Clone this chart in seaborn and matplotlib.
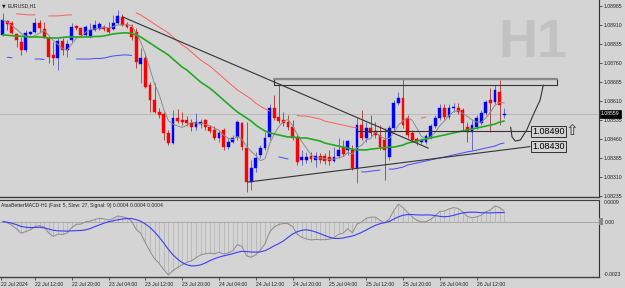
import numpy as np
import pandas as pd
import matplotlib
matplotlib.use('Agg')
import matplotlib.pyplot as plt
import seaborn as sns
from matplotlib.patches import Rectangle

sns.set_theme(style='white')
plt.rcParams['font.family'] = ['Liberation Sans', 'DejaVu Sans']

BG = '#d4d4d4'

# EURUSD H1 candles, 22 Jul 2024 05:00 onwards
opens = [1.08871, 1.08926, 1.08918, 1.08875, 1.08843, 1.08812, 1.08875, 1.08883, 1.08918, 1.08894,
         1.08859, 1.08792, 1.08780, 1.08847, 1.08812, 1.08851, 1.08906, 1.08898, 1.08871, 1.08867,
         1.08891, 1.08894, 1.08902, 1.08898, 1.08894, 1.08918, 1.08942, 1.08914, 1.08902, 1.08883,
         1.08756, 1.08780, 1.08673, 1.08614, 1.08567, 1.08559, 1.08484, 1.08444, 1.08543, 1.08535,
         1.08535, 1.08523, 1.08507, 1.08519, 1.08535, 1.08507, 1.08496, 1.08464, 1.08496, 1.08428,
         1.08448, 1.08468, 1.08523, 1.08424, 1.08290, 1.08345, 1.08397, 1.08424, 1.08468, 1.08582,
         1.08547, 1.08535, 1.08527, 1.08507, 1.08464, 1.08377, 1.08377, 1.08393, 1.08377, 1.08393,
         1.08393, 1.08389, 1.08373, 1.08393, 1.08428, 1.08417, 1.08417, 1.08345, 1.08515, 1.08464,
         1.08503, 1.08492, 1.08476, 1.08456, 1.08389, 1.08503, 1.08602, 1.08622, 1.08543, 1.08484,
         1.08460, 1.08448, 1.08448, 1.08468, 1.08511, 1.08543, 1.08582, 1.08547, 1.08582, 1.08582,
         1.08575, 1.08507, 1.08488, 1.08507, 1.08523, 1.08563, 1.08614, 1.08606, 1.08646, 1.08555]
closes = [1.08930, 1.08914, 1.08879, 1.08851, 1.08812, 1.08879, 1.08883, 1.08918, 1.08898, 1.08863,
          1.08784, 1.08780, 1.08847, 1.08812, 1.08835, 1.08902, 1.08898, 1.08871, 1.08902, 1.08891,
          1.08910, 1.08914, 1.08894, 1.08883, 1.08918, 1.08946, 1.08910, 1.08902, 1.08863, 1.08764,
          1.08780, 1.08665, 1.08614, 1.08567, 1.08555, 1.08484, 1.08444, 1.08543, 1.08531, 1.08527,
          1.08523, 1.08507, 1.08527, 1.08527, 1.08507, 1.08492, 1.08464, 1.08484, 1.08428, 1.08448,
          1.08464, 1.08527, 1.08428, 1.08290, 1.08345, 1.08385, 1.08424, 1.08464, 1.08582, 1.08543,
          1.08531, 1.08523, 1.08507, 1.08464, 1.08369, 1.08389, 1.08389, 1.08381, 1.08393, 1.08377,
          1.08373, 1.08373, 1.08389, 1.08417, 1.08401, 1.08452, 1.08345, 1.08515, 1.08464, 1.08503,
          1.08484, 1.08476, 1.08428, 1.08417, 1.08503, 1.08602, 1.08622, 1.08515, 1.08476, 1.08456,
          1.08448, 1.08456, 1.08472, 1.08511, 1.08543, 1.08582, 1.08547, 1.08582, 1.08586, 1.08567,
          1.08523, 1.08488, 1.08515, 1.08543, 1.08563, 1.08606, 1.08602, 1.08654, 1.08594, 1.08559]
highs = [1.08958, 1.08930, 1.08926, 1.08879, 1.08863, 1.08891, 1.08887, 1.08938, 1.08930, 1.08922,
         1.08863, 1.08843, 1.08859, 1.08859, 1.08851, 1.08918, 1.08910, 1.08902, 1.08910, 1.08918,
         1.08930, 1.08922, 1.08910, 1.08922, 1.08950, 1.08970, 1.08954, 1.08922, 1.08914, 1.08898,
         1.08819, 1.08800, 1.08685, 1.08681, 1.08582, 1.08567, 1.08496, 1.08575, 1.08578, 1.08567,
         1.08551, 1.08539, 1.08563, 1.08539, 1.08539, 1.08515, 1.08511, 1.08496, 1.08503, 1.08464,
         1.08476, 1.08535, 1.08527, 1.08527, 1.08377, 1.08409, 1.08436, 1.08488, 1.08598, 1.08634,
         1.08673, 1.08567, 1.08555, 1.08535, 1.08476, 1.08417, 1.08409, 1.08409, 1.08409, 1.08405,
         1.08405, 1.08417, 1.08428, 1.08464, 1.08456, 1.08456, 1.08436, 1.08543, 1.08575, 1.08527,
         1.08555, 1.08527, 1.08515, 1.08503, 1.08515, 1.08614, 1.08646, 1.08701, 1.08555, 1.08496,
         1.08468, 1.08464, 1.08480, 1.08519, 1.08555, 1.08598, 1.08598, 1.08598, 1.08602, 1.08602,
         1.08582, 1.08527, 1.08535, 1.08555, 1.08575, 1.08614, 1.08661, 1.08673, 1.08693, 1.08582]
lows = [1.08867, 1.08891, 1.08875, 1.08823, 1.08792, 1.08804, 1.08871, 1.08879, 1.08883, 1.08859,
        1.08760, 1.08752, 1.08733, 1.08792, 1.08784, 1.08843, 1.08891, 1.08863, 1.08863, 1.08859,
        1.08887, 1.08891, 1.08887, 1.08879, 1.08891, 1.08914, 1.08906, 1.08898, 1.08851, 1.08740,
        1.08681, 1.08661, 1.08567, 1.08563, 1.08543, 1.08456, 1.08436, 1.08440, 1.08523, 1.08515,
        1.08511, 1.08492, 1.08496, 1.08503, 1.08496, 1.08484, 1.08456, 1.08448, 1.08417, 1.08420,
        1.08444, 1.08456, 1.08417, 1.08251, 1.08258, 1.08330, 1.08385, 1.08417, 1.08456, 1.08535,
        1.08523, 1.08511, 1.08496, 1.08456, 1.08357, 1.08357, 1.08365, 1.08369, 1.08349, 1.08365,
        1.08361, 1.08357, 1.08369, 1.08385, 1.08393, 1.08397, 1.08338, 1.08286, 1.08456, 1.08448,
        1.08472, 1.08464, 1.08417, 1.08298, 1.08377, 1.08496, 1.08594, 1.08503, 1.08464, 1.08448,
        1.08436, 1.08440, 1.08440, 1.08460, 1.08503, 1.08535, 1.08539, 1.08539, 1.08567, 1.08559,
        1.08496, 1.08448, 1.08417, 1.08499, 1.08515, 1.08555, 1.08488, 1.08598, 1.08515, 1.08543]

# slow moving average (green), read per bar
ma_green = [1.08871, 1.08870, 1.08868, 1.08867, 1.08866, 1.08864, 1.08863, 1.08863, 1.08863, 1.08861,
            1.08859, 1.08859, 1.08859, 1.08861, 1.08863, 1.08863, 1.08863, 1.08863, 1.08863, 1.08863,
            1.08865, 1.08865, 1.08867, 1.08871, 1.08875, 1.08877, 1.08879, 1.08879, 1.08877, 1.08871,
            1.08863, 1.08851, 1.08839, 1.08827, 1.08815, 1.08804, 1.08792, 1.08776, 1.08760, 1.08744,
            1.08733, 1.08717, 1.08701, 1.08685, 1.08673, 1.08661, 1.08646, 1.08630, 1.08614, 1.08598,
            1.08582, 1.08567, 1.08555, 1.08543, 1.08531, 1.08515, 1.08503, 1.08492, 1.08484, 1.08480,
            1.08476, 1.08472, 1.08468, 1.08468, 1.08466, 1.08464, 1.08464, 1.08460, 1.08456, 1.08452,
            1.08444, 1.08440, 1.08436, 1.08432, 1.08428, 1.08424, 1.08420, 1.08417, 1.08417, 1.08417,
            1.08420, 1.08422, 1.08424, 1.08426, 1.08428, 1.08428, 1.08432, 1.08436, 1.08444, 1.08448,
            1.08452, 1.08456, 1.08460, 1.08464, 1.08468, 1.08472, 1.08476, 1.08480, 1.08484, 1.08488,
            1.08492, 1.08496, 1.08499, 1.08503, 1.08507, 1.08511, 1.08515, 1.08519, 1.08527, 1.08531]
env_dev = 0.0008
red_visible = [(3, 7), (10, 15), (29, 58), (64, 77), (91, 92)]
blue_visible = [(1, 2), (7, 9), (16, 28), (60, 62), (78, 82), (84, 109)]

price_ticks = [1.08235, 1.08310, 1.08385, 1.08460, 1.08535, 1.08610,
               1.08685, 1.08760, 1.08835, 1.08910, 1.08985]
time_ticks = [-0.3, 7, 15, 23, 31, 39, 47, 55, 63, 71, 79, 87, 95, 103]
time_labels = ['22 Jul 2024', '22 Jul 12:00', '22 Jul 20:00', '23 Jul 04:00', '23 Jul 12:00',
               '23 Jul 20:00', '24 Jul 04:00', '24 Jul 12:00', '24 Jul 20:00', '25 Jul 04:00',
               '25 Jul 12:00', '25 Jul 20:00', '26 Jul 04:00', '26 Jul 12:00']

# drawn objects (bar position, price)
trend_down = ([26.1, 92.5], [1.08942, 1.08424])
trend_up = ([53.3, 114.6], [1.08290, 1.08430])
level_line = ([77.0, 114.6], [1.08490, 1.08490])
box_bars = (59.0, 120.5)
box_prices = (1.08673, 1.08697)
hook_bars = [117.5, 116.8, 115.3, 113.9, 112.5, 111.4, 110.7, 110.4]
hook_prices = [1.08673, 1.08614, 1.08555, 1.08496, 1.08456, 1.08452, 1.08468, 1.08507]
current_price = 1.08559

df = pd.DataFrame({'bar': np.arange(len(closes)), 'open': opens, 'close': closes,
                   'high': highs, 'low': lows, 'green': ma_green})
df['gray'] = df['close'].rolling(5, min_periods=1).mean()
ema_fast = df['close'].ewm(span=5, adjust=False).mean()
ema_slow = df['close'].ewm(span=27, adjust=False).mean()
df['macd'] = ema_fast - ema_slow
df['signal'] = df['macd'].rolling(9, min_periods=1).mean()

W, H = 625, 288
fig = plt.figure(figsize=(W / 100, H / 100), dpi=100)
fig.patch.set_facecolor(BG)
ax = fig.add_axes([0, 1 - 197 / H, 599 / W, 197 / H])
ax2 = fig.add_axes([0, 1 - 277 / H, 599 / W, 77 / H], sharex=ax)
for a in (ax, ax2):
    a.set_facecolor(BG)
    for s in a.spines.values():
        s.set_visible(False)
    a.spines['right'].set_visible(True)
    a.spines['right'].set_color('#303030')
    a.spines['right'].set_linewidth(0.8)
    a.spines['bottom'].set_visible(True)
    a.spines['bottom'].set_color('#404040')
    a.spines['bottom'].set_linewidth(1.0)
ax2.spines['top'].set_visible(True)
ax2.spines['top'].set_color('#404040')
ax2.spines['top'].set_linewidth(0.8)

x_lo, x_hi = -0.587, 129.6
ax.set_xlim(x_lo, x_hi)
ax.set_ylim(1.08231, 1.09009)
ax2.set_ylim(-0.0023, 0.0009)

# watermark
ax.text(533 / 599, 1 - 43 / 197, 'H1', transform=ax.transAxes, fontsize=39,
        fontweight='bold', color='#c2c2c2', ha='center', va='center', zorder=0)

# current price line
ax.axhline(current_price, color='#b4b4b4', lw=0.6, zorder=1)

# candles
up = df['close'] >= df['open']
body_col = np.where(up, '#0000ff', '#ff0000')
wick_col = np.where(up, '#6a6ac8', '#b04848')
ax.vlines(df['bar'], df['low'], df['high'], colors=wick_col, lw=0.7, zorder=3)
body_lo = np.minimum(df['open'], df['close'])
body_h = np.maximum((df['close'] - df['open']).abs(), 0.00003)
ax.bar(df['bar'], body_h, bottom=body_lo, width=0.62, color=body_col,
       edgecolor=body_col, lw=0.3, zorder=4)

# moving averages
sns.lineplot(data=df, x='bar', y='gray', ax=ax, color='#8c8c8c', lw=0.7,
             estimator=None, sort=False, zorder=5, legend=False)
sns.lineplot(data=df, x='bar', y='green', ax=ax, color='#22aa22', lw=1.2,
             estimator=None, sort=False, zorder=5, legend=False)
upper = df['green'] * (1 + env_dev)
lower = df['green'] * (1 - env_dev)
for a, b in red_visible:
    seg = df.iloc[a:b + 1]
    ax.plot(seg['bar'], upper.iloc[a:b + 1], color='#ff5c5c', lw=0.7, zorder=5)
for a, b in blue_visible:
    seg = df.iloc[a:b + 1]
    ax.plot(seg['bar'], lower.iloc[a:b + 1], color='#4848ff', lw=0.7, zorder=5)

# drawn objects
line_col = '#333333'
ax.plot(*trend_down, color=line_col, lw=0.8, zorder=6)
ax.plot(*trend_up, color=line_col, lw=0.8, zorder=6)
ax.plot(*level_line, color=line_col, lw=0.8, zorder=6)
ax.add_patch(Rectangle((box_bars[0], box_prices[0]), box_bars[1] - box_bars[0],
                       box_prices[1] - box_prices[0], fill=False, edgecolor=line_col,
                       lw=0.8, zorder=6))
ax.plot(box_bars, [box_prices[1], box_prices[1]], color='#8a8a8a', lw=1.6, zorder=6)
ax.plot(hook_bars, hook_prices, color=line_col, lw=0.8, zorder=6)

for price, txt in [(1.08490, '1.08490'), (1.08430, '1.08430')]:
    ax.text(115.1, price, txt, fontsize=6.5, color='black', ha='left', va='center', zorder=7,
            bbox=dict(boxstyle='square,pad=0.1', fc=BG, ec='#303030', lw=0.7))
ax.text(122.2, 1.08494, '\u21e7', fontsize=11, color='#383838', ha='left', va='center',
        family='DejaVu Sans', zorder=7)

# price axis
ax.yaxis.tick_right()
ax.set_yticks(price_ticks)
ax.set_yticklabels([f'{p:.5f}' for p in price_ticks])
ax.tick_params(axis='y', which='both', right=True, length=2, width=0.5, pad=1.5,
               labelsize=3.7, colors='#202020')
ax.tick_params(axis='x', bottom=False, labelbottom=False)
ax.set_xlabel('')
ax.set_ylabel('')
ax.text(1.003, current_price, '1.08559', transform=ax.get_yaxis_transform(), fontsize=3.7,
        color='white', ha='left', va='center', zorder=8, clip_on=False,
        bbox=dict(boxstyle='square,pad=0.25', fc='black', ec='black', lw=0.5))

# title
fig.text(2 / W, 1 - 6 / H, '\u25bc', fontsize=3.5, family='DejaVu Sans', va='center', color='#202020')
fig.text(8 / W, 1 - 6 / H, 'EURUSD,H1', fontsize=3.7, va='center', color='#202020')

# MACD panel
ax2.axhline(0, color='#a0a0a0', lw=0.6, zorder=1)
ax2.vlines(df['bar'], 0, df['macd'], colors='#b0b0b0', lw=0.5, zorder=2)
sns.lineplot(data=df, x='bar', y='macd', ax=ax2, color='#8c8c8c', lw=0.7,
             estimator=None, sort=False, zorder=3, legend=False)
sns.lineplot(data=df, x='bar', y='signal', ax=ax2, color='#3c3cff', lw=0.8,
             estimator=None, sort=False, zorder=4, legend=False)
ax2.text(1 / 599, 1 - 5 / 77, 'AtasBetterMACD-H1 (Fast: 5, Slow: 27, Signal: 9) 0.0004 0.0004 0.0004',
         transform=ax2.transAxes, fontsize=3.6, color='#202020', ha='left', va='center')
ax2.yaxis.tick_right()
ax2.set_yticks([0.0])
ax2.set_yticklabels(['0.00'])
ax2.tick_params(axis='y', right=True, length=0, pad=4, labelsize=3.7, colors='#202020')
ax2.text(1.002, 0.0, ' ', transform=ax2.get_yaxis_transform(), fontsize=3.0, clip_on=False,
         bbox=dict(boxstyle='square,pad=0.3', fc='#8a8a8a', ec='none'), va='center')
ax2.text(1.008, 0.0009, '0.0009', transform=ax2.get_yaxis_transform(), fontsize=3.7,
         color='#202020', ha='left', va='top', clip_on=False)
ax2.text(1.008, -0.0023, '-0.0023', transform=ax2.get_yaxis_transform(), fontsize=3.7,
         color='#202020', ha='left', va='bottom', clip_on=False)
ax2.set_xticks(time_ticks)
ax2.set_xticklabels(time_labels, ha='left')
ax2.tick_params(axis='x', bottom=True, length=2, width=0.5, pad=1.5, labelsize=3.7,
                colors='#202020')
ax2.set_xlabel('')
ax2.set_ylabel('')

fig.savefig('out.png', dpi=100, facecolor=BG)
